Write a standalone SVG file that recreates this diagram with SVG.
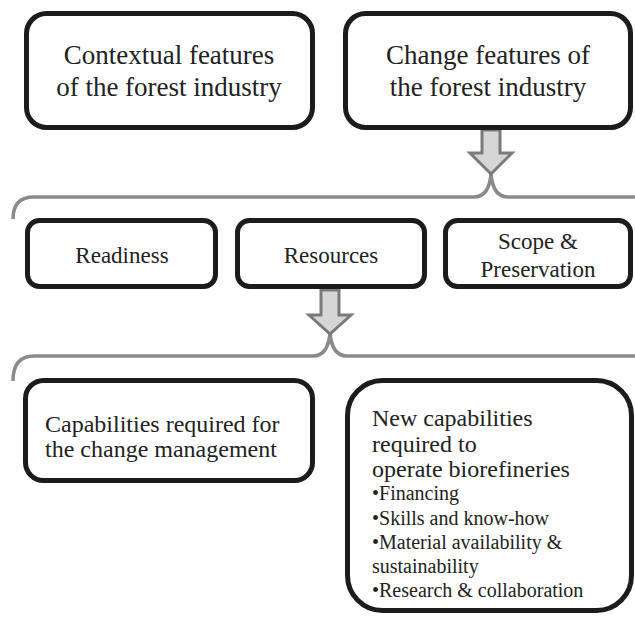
<svg xmlns="http://www.w3.org/2000/svg" width="635" height="619" viewBox="0 0 635 619">
<style>
.box{fill:#fff;stroke:#1c1c1c;stroke-width:5}
.brace{fill:none;stroke:#8a8a8a;stroke-width:3.5}
.arrow{fill:#d6d6d6;stroke:#7a7a7a;stroke-width:3}
.lbl{font-family:"Liberation Serif","Times New Roman",serif;fill:#222}
.big{font-size:27px}
.mid{font-size:23px}
.txt{font-size:24px}
.sm{font-size:20px}
.c{text-anchor:middle}
</style>
<rect width="635" height="619" fill="#fff"/>
<g id="connectors">
<path class="brace" d="M13,219 Q13,197 34,197 L474,197 Q489,197 491,174 Q493,197 508,197 L635,197"/>
<path class="brace" d="M13,381 Q13,356 34,356 L313,356 Q328,356 330,333 Q332,356 347,356 L635,356"/>
<polygon class="arrow" points="482,130 500,130 500,153 512,153 491,174 470,153 482,153"/>
<polygon class="arrow" points="321,290 339,290 339,315 351,315 330,334 309,315 321,315"/>
</g>
<g id="contextual">
<rect class="box" x="26.5" y="13.5" width="286" height="114" rx="20"/>
<text class="lbl big c" x="169" y="64">Contextual features</text>
<text class="lbl big c" x="169" y="96">of the forest industry</text>
</g>
<g id="change">
<rect class="box" x="345.5" y="13.5" width="285" height="114" rx="20"/>
<text class="lbl big c" x="488" y="64">Change features of</text>
<text class="lbl big c" x="488" y="96">the forest industry</text>
</g>
<g id="readiness">
<rect class="box" x="27.5" y="220.5" width="188" height="66" rx="12"/>
<text class="lbl mid c" x="122" y="263">Readiness</text>
</g>
<g id="resources">
<rect class="box" x="237.5" y="220.5" width="187" height="66" rx="12"/>
<text class="lbl mid c" x="331" y="263">Resources</text>
</g>
<g id="scope">
<rect class="box" x="445.5" y="220.5" width="185" height="66" rx="12"/>
<text class="lbl mid c" x="538" y="249">Scope &amp;</text>
<text class="lbl mid c" x="538" y="277">Preservation</text>
</g>
<g id="capabilities">
<rect class="box" x="25.5" y="380.5" width="287" height="100" rx="18"/>
<text class="lbl txt" x="45" y="432">Capabilities required for</text>
<text class="lbl txt" x="45" y="457">the change management</text>
</g>
<g id="new-capabilities">
<rect class="box" x="347.5" y="380.5" width="284" height="230" rx="35"/>
<text class="lbl txt" x="372" y="426">New capabilities</text>
<text class="lbl txt" x="372" y="452">required to</text>
<text class="lbl txt" x="372" y="477">operate biorefineries</text>
<text class="lbl sm" x="372" y="500">•Financing</text>
<text class="lbl sm" x="372" y="525">•Skills and know-how</text>
<text class="lbl sm" x="372" y="549">•Material availability &amp;</text>
<text class="lbl sm" x="372" y="573">sustainability</text>
<text class="lbl sm" x="372" y="597">•Research &amp; collaboration</text>
</g>
</svg>
